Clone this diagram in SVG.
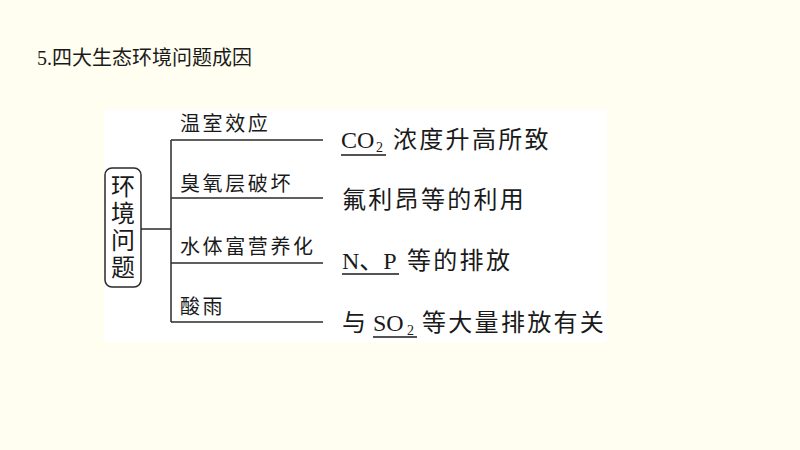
<svg xmlns="http://www.w3.org/2000/svg" width="800" height="450" viewBox="0 0 800 450">
  <style>
    .cjk { font-family: "Noto Sans CJK SC", "Noto Sans", sans-serif; fill: #1a1a1a; }
    .lat { font-family: "Liberation Serif", "Noto Sans CJK SC", serif; fill: #1a1a1a; }
    .lbl { font-size: 20px; letter-spacing: 2.6px; }
    .rt { font-size: 24px; letter-spacing: 2.3px; }
    .ln { stroke: #2a2a2a; stroke-width: 1.5; fill: none; }
    .ul { stroke: #1a1a1a; stroke-width: 1.6; }
  </style>
  <rect x="0" y="0" width="800" height="450" fill="#fffef0"/>
  <rect x="104" y="110" width="503" height="232" fill="#ffffff"/>

  <g id="title">
    <text x="37" y="65" font-size="20" class="lat">5.<tspan class="cjk">四大生态环境问题成因</tspan></text>
  </g>

  <g id="root">
    <rect x="105" y="168" width="36" height="119" rx="7" ry="7" class="ln" stroke-width="1.6"/>
    <text x="123" y="174" class="cjk" font-size="24" writing-mode="vertical-rl" letter-spacing="3">环境问题</text>
  </g>

  <g id="connectors">
    <line x1="141" y1="229" x2="171" y2="229" class="ln"/>
    <line x1="171" y1="140" x2="171" y2="322" class="ln"/>
    <line x1="171" y1="140" x2="323" y2="140" class="ln"/>
    <line x1="171" y1="198" x2="323" y2="198" class="ln"/>
    <line x1="171" y1="263" x2="323" y2="263" class="ln"/>
    <line x1="171" y1="322" x2="323" y2="322" class="ln"/>
  </g>

  <g id="n1">
    <text x="180" y="131" class="cjk lbl">温室效应</text>
    <text x="341" y="148" class="lat" font-size="24">CO</text>
    <text x="376" y="152" class="lat" font-size="14">2</text>
    <line x1="341" y1="155" x2="386" y2="155" class="ul"/>
    <text x="393" y="148" class="cjk rt">浓度升高所致</text>
  </g>

  <g id="n2">
    <text x="180" y="191" class="cjk lbl">臭氧层破坏</text>
    <text x="342" y="208" class="cjk rt">氟利昂等的利用</text>
  </g>

  <g id="n3">
    <text x="180" y="254" class="cjk lbl">水体富营养化</text>
    <text x="342" y="269" class="lat" font-size="24">N<tspan class="cjk">、</tspan>P</text>
    <line x1="342" y1="274" x2="399" y2="274" class="ul"/>
    <text x="407" y="269" class="cjk rt">等的排放</text>
  </g>

  <g id="n4">
    <text x="180" y="314" class="cjk lbl">酸雨</text>
    <text x="342" y="331" class="cjk rt">与</text>
    <text x="373" y="331" class="lat" font-size="24">SO</text>
    <text x="407" y="335" class="lat" font-size="14">2</text>
    <line x1="373" y1="337" x2="417" y2="337" class="ul"/>
    <text x="422" y="331" class="cjk rt">等大量排放有关</text>
  </g>
</svg>
